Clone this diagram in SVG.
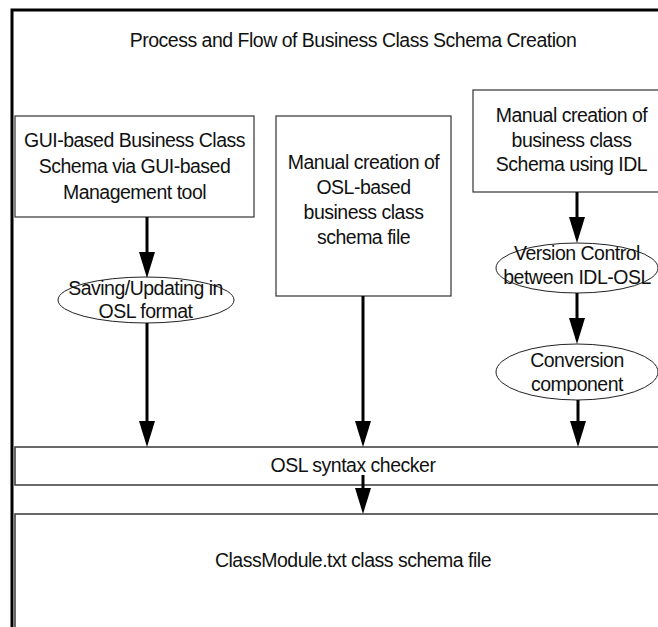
<svg xmlns="http://www.w3.org/2000/svg" width="658" height="627" viewBox="0 0 658 627">
<defs>
<style>
text{font-family:"Liberation Sans",Arial,sans-serif;font-size:19.5px;letter-spacing:-0.5px;fill:#111;text-anchor:middle}
.box{fill:#fff;stroke:#333;stroke-width:1.2}
.wide{fill:#fff;stroke:#444;stroke-width:1.6}
.ell{fill:#fff;stroke:#222;stroke-width:1}
.arr{stroke:#000;stroke-width:3;fill:none;marker-end:url(#ah)}
</style>
<marker id="ah" viewBox="0 0 26 16" refX="16" refY="8" markerWidth="26" markerHeight="16" markerUnits="userSpaceOnUse" orient="auto">
<path d="M0,0 L26,8 L0,16 z" fill="#000"/>
</marker>
</defs>
<rect width="658" height="627" fill="#fff"/>
<path d="M12,640 V10 H680" fill="none" stroke="#000" stroke-width="3"/>
<text id="title" x="353" y="47">Process and Flow of Business Class Schema Creation</text>
<g id="gui">
<rect class="box" x="15" y="116" width="239" height="101"/>
<text x="134.5" y="147">GUI-based Business Class</text>
<text x="134.5" y="173">Schema via GUI-based</text>
<text x="134.5" y="199">Management tool</text>
</g>
<g id="manualosl">
<rect class="box" x="276" y="116" width="175" height="180"/>
<text x="363.5" y="169">Manual creation of</text>
<text x="363.5" y="194">OSL-based</text>
<text x="363.5" y="219">business class</text>
<text x="363.5" y="244">schema file</text>
</g>
<g id="manualidl">
<rect class="box" x="473" y="90" width="220" height="102"/>
<text x="571.5" y="122">Manual creation of</text>
<text x="571.5" y="147">business class</text>
<text x="571.5" y="171">Schema using IDL</text>
</g>
<g id="saving">
<ellipse class="ell" cx="146" cy="300" rx="88" ry="23"/>
<text x="145.5" y="295">Saving/Updating in</text>
<text x="145.5" y="318">OSL format</text>
</g>
<g id="version">
<ellipse class="ell" cx="577" cy="268" rx="81" ry="25"/>
<text x="577" y="260">Version Control</text>
<text x="577" y="284">between IDL-OSL</text>
</g>
<g id="conversion">
<ellipse class="ell" cx="577" cy="372" rx="81" ry="28"/>
<text x="577" y="367">Conversion</text>
<text x="577" y="391">component</text>
</g>
<g id="checker">
<rect class="wide" x="15" y="447" width="700" height="38"/>
<text x="353" y="472">OSL syntax checker</text>
</g>
<g id="classmodule">
<rect class="wide" x="15" y="514" width="700" height="200"/>
<text x="353" y="567">ClassModule.txt class schema file</text>
</g>
<g id="connectors">
<line class="arr" x1="147" y1="217" x2="147" y2="268"/>
<line class="arr" x1="147" y1="323" x2="147" y2="437"/>
<line class="arr" x1="363" y1="296" x2="363" y2="437"/>
<line class="arr" x1="577" y1="192" x2="577" y2="233"/>
<line class="arr" x1="577" y1="293" x2="577" y2="334"/>
<line class="arr" x1="578" y1="400" x2="578" y2="437"/>
<line class="arr" x1="363" y1="475" x2="363" y2="504"/>
</g>
</svg>
